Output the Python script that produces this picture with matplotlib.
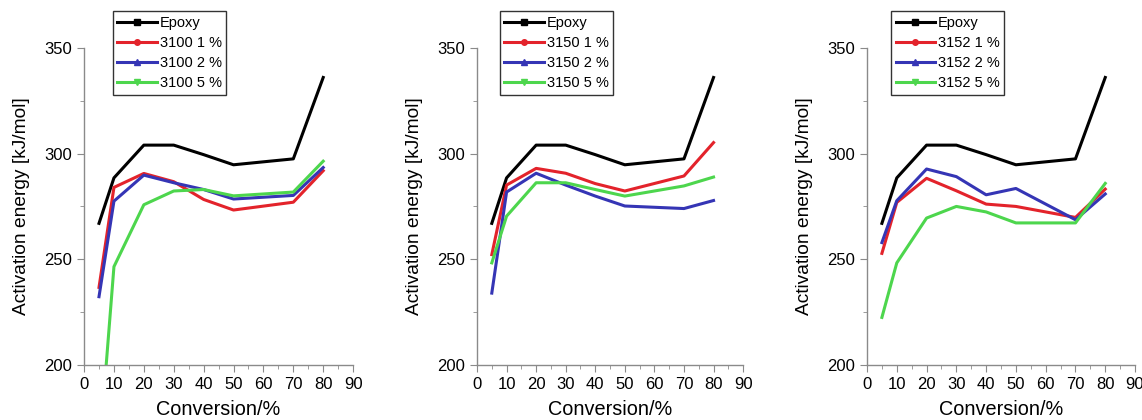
import matplotlib.pyplot as plt
from matplotlib.ticker import MultipleLocator

plt.rcParams['font.family'] = ['Liberation Sans', 'DejaVu Sans']

# conversion levels (%)
conversion = [5, 10, 20, 30, 40, 50, 70, 80]

# activation energy, kJ/mol
epoxy = [267, 288.5, 304, 304, 299.5, 294.7, 297.5, 336]

e3100_1 = [236.7, 284, 290.6, 286.7, 278.3, 273.3, 277, 291.9]
e3100_2 = [232.3, 277.5, 289.8, 286.2, 283, 278.5, 280.2, 293.4]
e3100_5 = [157, 246.5, 275.8, 282.3, 283, 280, 281.8, 296.4]

e3150_1 = [252.2, 285.1, 293, 290.7, 285.8, 282.3, 289.4, 305.2]
e3150_2 = [234, 281.8, 290.7, 285.1, 279.9, 275.2, 274, 277.8]
e3150_5 = [248.3, 270.4, 286.2, 286.2, 283, 279.9, 284.7, 288.9]

e3152_1 = [252.8, 276.9, 288.3, 282.4, 276.1, 275, 269.8, 283.2]
e3152_2 = [257.9, 277.7, 292.7, 289.1, 280.5, 283.5, 268.7, 280.9]
e3152_5 = [222.5, 248.3, 269.5, 275, 272.4, 267.2, 267.2, 285.9]

panels = [
    ("3100", [e3100_1, e3100_2, e3100_5]),
    ("3150", [e3150_1, e3150_2, e3150_5]),
    ("3152", [e3152_1, e3152_2, e3152_5]),
]
loadings = ["1 %", "2 %", "5 %"]
colors = ["#e3232b", "#3535b5", "#4dd64d"]
markers = ["o", "^", "v"]

fig = plt.figure(figsize=(11.42, 4.2), dpi=100)
# axes boxes in figure fractions
boxes = [(0.0736, 0.131, 0.2356, 0.755),
         (0.4177, 0.131, 0.2330, 0.755),
         (0.7592, 0.131, 0.2347, 0.755)]
leg_x = [0.108, 0.086, 0.09]

for (name, series), box, lx in zip(panels, boxes, leg_x):
    ax = fig.add_axes(box)
    ax.plot(conversion, epoxy, color="black", lw=2.2, marker="s", ms=0, label="Epoxy")
    for vals, lab, c, m in zip(series, loadings, colors, markers):
        ax.plot(conversion, vals, color=c, lw=2.2, marker=m, ms=0, label=f"{name} {lab}")

    ax.set_xlim(0, 90)
    ax.set_ylim(200, 350)
    ax.xaxis.set_major_locator(MultipleLocator(10))
    ax.xaxis.set_minor_locator(MultipleLocator(5))
    ax.yaxis.set_major_locator(MultipleLocator(50))
    ax.yaxis.set_minor_locator(MultipleLocator(25))
    for s in ["top", "right"]:
        ax.spines[s].set_visible(False)
    for s in ["left", "bottom"]:
        ax.spines[s].set_color("#8a8a8a")
        ax.spines[s].set_linewidth(1.0)
    ax.tick_params(which="both", color="#8a8a8a", labelsize=12, direction="out")
    ax.tick_params(which="major", length=5)
    ax.tick_params(which="minor", length=3)
    ax.set_xlabel("Conversion/%", fontsize=14.3, labelpad=6)
    ax.set_ylabel("Activation energy [kJ/mol]", fontsize=13.8, labelpad=10)

    leg = ax.legend(loc="upper left", bbox_to_anchor=(lx, 1.115), fontsize=10.5,
                    frameon=True, fancybox=False, edgecolor="black",
                    handlelength=2.7, handletextpad=0.2, labelspacing=0.42,
                    borderpad=0.3, borderaxespad=0)
    leg.get_frame().set_linewidth(1.0)
    for h in leg.legend_handles:
        h.set_markersize(4)

fig.savefig("out.png", dpi=100)
